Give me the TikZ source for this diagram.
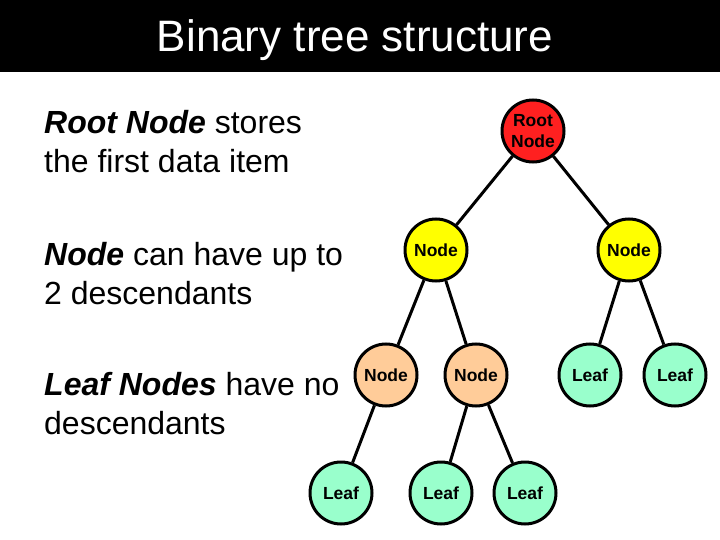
\documentclass[tikz,border=0pt]{standalone}
\usepackage{fontspec}
\setmainfont{Liberation Sans}
\definecolor{rootred}{HTML}{FF2020}
\definecolor{nodeyellow}{HTML}{FFFF00}
\definecolor{nodepeach}{HTML}{FFCC99}
\definecolor{leafgreen}{HTML}{99FFCC}
\begin{document}
\begin{tikzpicture}[x=1pt,y=-1pt,
  treenode/.style={circle,draw=black,line width=3pt,minimum size=62pt,inner sep=0pt,
    font=\fontsize{17.5}{20.5}\selectfont\bfseries,align=center},
  rootnode/.style={treenode,fill=rootred},
  midnode/.style={treenode,fill=nodeyellow},
  lownode/.style={treenode,fill=nodepeach},
  leafnode/.style={treenode,fill=leafgreen},
  edge/.style={line width=3pt,black},
  bodytext/.style={anchor=base west,inner sep=0pt,font=\fontsize{32}{38}\selectfont}]
\useasboundingbox (0,0) rectangle (720,540);
\fill[black] (0,0) rectangle (720,72);
\node[anchor=base,text=white,inner sep=0pt,font=\fontsize{44}{50}\selectfont] (title) at (355,52) {Binary tree structure};

\node[bodytext] (t1a) at (44,134) {\textbf{\textit{Root Node}} stores};
\node[bodytext] (t1b) at (44,173) {the first data item};
\node[bodytext] (t2a) at (44,265) {\textbf{\textit{Node}} can have up to};
\node[bodytext] (t2b) at (44,304) {2 descendants};
\node[bodytext] (t3a) at (44,395) {\textbf{\textit{Leaf Nodes}} have no};
\node[bodytext] (t3b) at (44,434) {descendants};

\node[rootnode] (root) at (533,131) {Root\\Node};
\node[midnode] (nl) at (436,250) {Node};
\node[midnode] (nr) at (629,250) {Node};
\node[lownode] (na) at (386,375) {Node};
\node[lownode] (nb) at (476,375) {Node};
\node[leafnode] (lc) at (590,375) {Leaf};
\node[leafnode] (ld) at (675,375) {Leaf};
\node[leafnode] (le) at (341,493) {Leaf};
\node[leafnode] (lf) at (441,493) {Leaf};
\node[leafnode] (lg) at (525,493) {Leaf};

\draw[edge] (root) -- (nl);
\draw[edge] (root) -- (nr);
\draw[edge] (nl) -- (na);
\draw[edge] (nl) -- (nb);
\draw[edge] (nr) -- (lc);
\draw[edge] (nr) -- (ld);
\draw[edge] (na) -- (le);
\draw[edge] (nb) -- (lf);
\draw[edge] (nb) -- (lg);
\end{tikzpicture}
\end{document}
